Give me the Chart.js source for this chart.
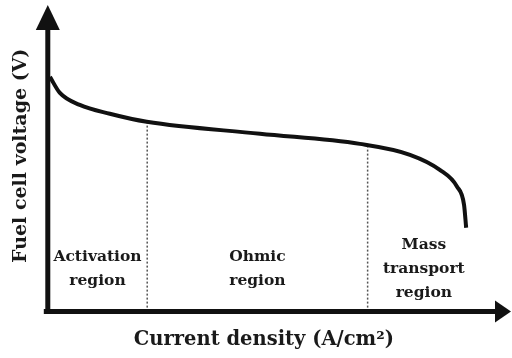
<!DOCTYPE html>
<html>
<head>
<meta charset="utf-8">
<script src="https://cdn.jsdelivr.net/npm/chart.js@4"></script>
<style>
  html, body { margin: 0; padding: 0; background: #fff; }
  #wrap { width: 512px; height: 358px; position: relative; }
</style>
</head>
<body>
<div id="wrap"><canvas id="myChart"></canvas></div>
<script>
// polarization curve, current density in A/cm2, voltage in V
const currentDensity = [0.005, 0.028, 0.074, 0.1435, 0.229, 0.491, 0.722, 0.838, 0.907, 0.947, 0.963, 0.968];
const voltage        = [0.904, 0.842, 0.796, 0.762, 0.731, 0.685, 0.646, 0.604, 0.546, 0.481, 0.412, 0.323];

// region borders along x and where the dotted separators meet the curve
const regionBounds = [0, 0.23, 0.74, 1.0];
const boundaryTops = [0.727, 0.638];
const regionNames = [['Activation', 'region'], ['Ohmic', 'region'], ['Mass', 'transport', 'region']];

const serif = "'DejaVu Serif', 'Liberation Serif', serif";
const ink = '#111';

const curve = currentDensity.map((x, i) => ({ x: x, y: voltage[i] }));

const datasets = [
  {
    label: 'Polarization curve',
    data: curve,
    borderColor: ink,
    borderWidth: 4,
    pointRadius: 0,
    fill: false,
    cubicInterpolationMode: 'monotone'
  }
];

// dotted separators between the regions
for (let i = 0; i < boundaryTops.length; i++) {
  const bx = regionBounds[i + 1];
  datasets.push({
    label: 'border' + i,
    data: [{ x: bx, y: 0 }, { x: bx, y: boundaryTops[i] }],
    borderColor: '#555',
    borderWidth: 1.5,
    borderDash: [2, 2],
    pointRadius: 0,
    fill: false
  });
}

// axes with arrow heads and region names
const decor = {
  id: 'decor',
  afterDraw(chart) {
    const c = chart.ctx;
    const a = chart.chartArea;
    const xs = chart.scales.x;
    c.save();
    c.strokeStyle = ink;
    c.fillStyle = ink;
    c.lineWidth = 5;
    c.lineCap = 'butt';

    // y axis
    c.beginPath();
    c.moveTo(a.left, a.bottom + 2.5);
    c.lineTo(a.left, a.top + 28);
    c.stroke();
    c.beginPath();
    c.moveTo(a.left, a.top + 5);
    c.lineTo(a.left - 12, a.top + 30);
    c.lineTo(a.left + 12, a.top + 30);
    c.closePath();
    c.fill();

    // x axis
    const w = chart.width;
    c.beginPath();
    c.moveTo(a.left - 4, a.bottom);
    c.lineTo(w - 16, a.bottom);
    c.stroke();
    c.beginPath();
    c.moveTo(w - 1, a.bottom);
    c.lineTo(w - 17, a.bottom - 11);
    c.lineTo(w - 17, a.bottom + 11);
    c.closePath();
    c.fill();

    // region names
    c.font = 'bold 15.5px ' + serif;
    c.textAlign = 'center';
    c.textBaseline = 'middle';
    c.fillStyle = '#1a1a1a';
    regionNames.forEach((lines, i) => {
      const cx = (xs.getPixelForValue(regionBounds[i]) + xs.getPixelForValue(regionBounds[i + 1])) / 2;
      const lh = 24;
      const y0 = a.bottom - 43 - (lines.length - 1) * lh / 2;
      lines.forEach((t, j) => c.fillText(t, cx, y0 + j * lh));
    });
    c.restore();
  }
};

const ctx = document.getElementById('myChart');

const chart = new Chart(ctx, {
  type: 'line',
  data: { datasets: datasets },
  options: {
    responsive: true,
    maintainAspectRatio: false,
    animation: false,
    layout: { padding: { left: 0, right: 32, top: 0, bottom: 0 } },
    plugins: {
      legend: { display: false },
      tooltip: { enabled: false }
    },
    scales: {
      x: {
        type: 'linear',
        min: 0,
        max: 1.0,
        ticks: { display: false },
        grid: { display: false, drawTicks: false },
        border: { display: false },
        title: {
          display: true,
          text: 'Current density (A/cm²)',
          color: '#1a1a1a',
          font: { family: serif, weight: 'bold', size: 19.5 },
          padding: { top: 17, bottom: 6 }
        }
      },
      y: {
        type: 'linear',
        min: 0,
        max: 1.2,
        ticks: { display: false },
        grid: { display: false, drawTicks: false },
        border: { display: false },
        title: {
          display: true,
          text: 'Fuel cell voltage (V)',
          color: '#1a1a1a',
          font: { family: serif, weight: 'bold', size: 19 },
          padding: { top: 10, bottom: 15 }
        }
      }
    }
  },
  plugins: [decor]
});
</script>
</body>
</html>
